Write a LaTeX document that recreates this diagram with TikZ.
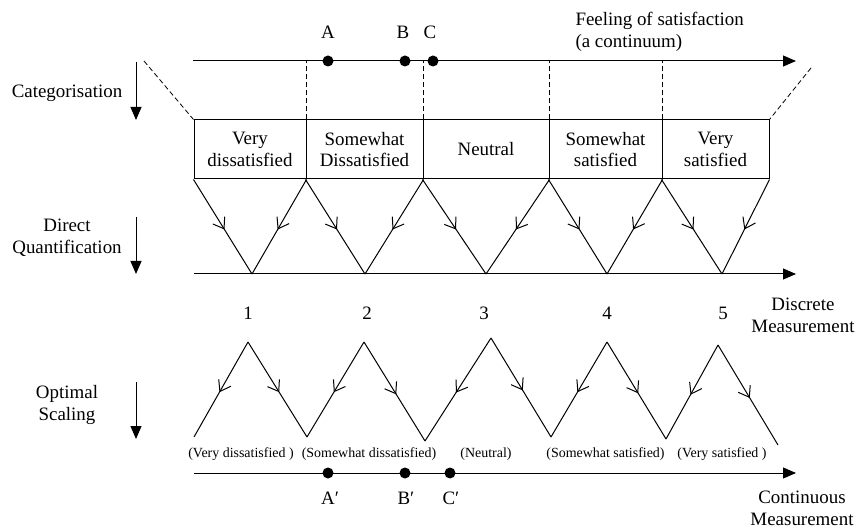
\documentclass[tikz,border=0pt]{standalone}
\usepackage{fontspec}
\setmainfont{Liberation Serif}
\usetikzlibrary{arrows.meta,decorations.markings}
\begin{document}
\begin{tikzpicture}[x=1bp,y=-1bp, line width=1bp,
 every node/.style={font=\fontsize{19}{22}\selectfont, inner sep=0pt},
 ax/.style={-{Triangle[length=13bp,width=11bp]}},
 sideax/.style={-{Triangle[length=13bp,width=11bp]}},
 dsh/.style={dash pattern=on 5bp off 3bp, line width=0.8bp},
 catbox/.style={draw, minimum height=59bp, align=center},
 mid/.style={postaction={decorate}, decoration={markings, mark=at position 0.53 with {\arrow{Straight Barb[length=10bp,width=14bp]}}}},
 dot/.style={circle, fill, minimum size=11bp},
 small/.style={font=\fontsize{14}{16}\selectfont},
 ttl/.style={align=center}]
\useasboundingbox (0,0) rectangle (857,529);

% top continuum axis
\coordinate (t0) at (193,61);
\coordinate (t1) at (796,61);
\draw[ax] (t0) -- (t1);
\node[dot] (A) at (328,61) {};
\node[dot] (B) at (405,61) {};
\node[dot] (C) at (433,61) {};
\node (lA) at (328,32) {A};
\node (lB) at (403,32) {B};
\node (lC) at (430,32) {C};
\node[anchor=west, align=left] (feel) at (575,32) {Feeling of satisfaction\\(a continuum)};

% category boxes
\node[catbox, minimum width=112bp] (b1) at (250,149.5) {Very\\dissatisfied};
\node[catbox, minimum width=117bp] (b2) at (364.5,149.5) {Somewhat\\Dissatisfied};
\node[catbox, minimum width=126bp] (b3) at (486,149.5) {Neutral};
\node[catbox, minimum width=113bp] (b4) at (605.5,149.5) {Somewhat\\satisfied};
\node[catbox, minimum width=107bp] (b5) at (715.5,149.5) {Very\\satisfied};

% dashed projections
\draw[dsh] (b1.north east) -- (b1.north east |- t0);
\draw[dsh] (b2.north east) -- (b2.north east |- t0);
\draw[dsh] (b3.north east) -- (b3.north east |- t0);
\draw[dsh] (b4.north east) -- (b4.north east |- t0);
\coordinate (dl) at (144,61);
\coordinate (dr) at (811,68);
\draw[dsh] (dl) -- (b1.north west);
\draw[dsh] (dr) -- (b5.north east);

% discrete axis
\coordinate (d0) at (194,274);
\coordinate (d1) at (796,274);
\draw[ax] (d0) -- (d1);
\coordinate (v1) at (252,274);
\coordinate (v2) at (365,274);
\coordinate (v3) at (486,274);
\coordinate (v4) at (607,274);
\coordinate (v5) at (722,274);
\draw[mid] (b1.south west) -- (v1);
\draw[mid] (b1.south east) -- (v1);
\draw[mid] (b2.south west) -- (v2);
\draw[mid] (b2.south east) -- (v2);
\draw[mid] (b3.south west) -- (v3);
\draw[mid] (b3.south east) -- (v3);
\draw[mid] (b4.south west) -- (v4);
\draw[mid] (b4.south east) -- (v4);
\draw[mid] (b5.south west) -- (v5);
\draw[mid] (b5.south east) -- (v5);
\node[ttl] (disc) at (803,315) {Discrete\\Measurement};

% numbers
\node (n1) at (248,313) {1};
\node (n2) at (367,313) {2};
\node (n3) at (484,313) {3};
\node (n4) at (607,313) {4};
\node (n5) at (723,313) {5};

% optimal scaling zigzag
\coordinate (q0) at (194,437);
\coordinate (p1) at (248,342);
\coordinate (q1) at (307,437);
\coordinate (p2) at (364,342);
\coordinate (q2) at (425,441);
\coordinate (p3) at (491,338);
\coordinate (q3) at (551,437);
\coordinate (p4) at (607,342);
\coordinate (q4) at (666,439);
\coordinate (p5) at (718,345);
\coordinate (q5) at (778,445);
\draw[mid] (p1) -- (q0);
\draw[mid] (p1) -- (q1);
\draw[mid] (p2) -- (q1);
\draw[mid] (p2) -- (q2);
\draw[mid] (p3) -- (q2);
\draw[mid] (p3) -- (q3);
\draw[mid] (p4) -- (q3);
\draw[mid] (p4) -- (q4);
\draw[mid] (p5) -- (q4);
\draw[mid] (p5) -- (q5);

\node[small] (l1) at (241,454) {(Very dissatisfied )};
\node[small] (l2) at (369,454) {(Somewhat dissatisfied)};
\node[small] (l3) at (486,454) {(Neutral)};
\node[small] (l4) at (605.5,454) {(Somewhat satisfied)};
\node[small] (l5) at (722,454) {(Very satisfied )};

% continuous axis
\coordinate (c0) at (194,473);
\coordinate (c1) at (796,473);
\draw[ax] (c0) -- (c1);
\node[dot] (A2) at (328,473) {};
\node[dot] (B2) at (405,473) {};
\node[dot] (C2) at (450,473) {};
\node (lA2) at (330,498) {A′};
\node (lB2) at (406,498) {B′};
\node (lC2) at (451,498) {C′};
\node[ttl] (cont) at (802,508) {Continuous\\Measurement};

% left process labels
\node[ttl] (cat) at (67,93) {Categorisation};
\coordinate (ca0) at (136,62);
\coordinate (ca1) at (136,120);
\draw[sideax] (ca0) -- (ca1);
\node[ttl] (dq) at (67,238) {Direct\\Quantification};
\coordinate (qa0) at (136,217);
\coordinate (qa1) at (136,274);
\draw[sideax] (qa0) -- (qa1);
\node[ttl] (os) at (67,405) {Optimal\\Scaling};
\coordinate (oa0) at (136,382);
\coordinate (oa1) at (136,439);
\draw[sideax] (oa0) -- (oa1);
\end{tikzpicture}
\end{document}
